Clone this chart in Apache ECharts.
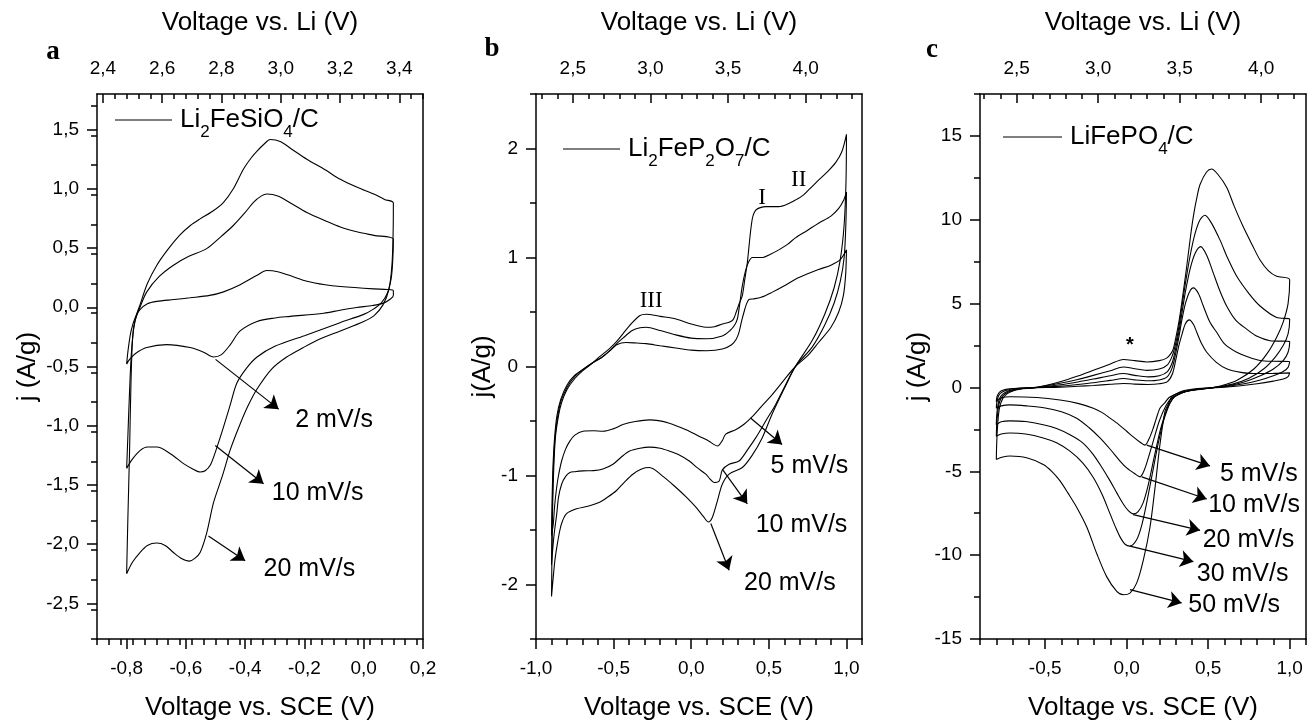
<!DOCTYPE html>
<html><head><meta charset="utf-8">
<script src="https://cdn.jsdelivr.net/npm/echarts@6/dist/echarts.min.js"></script>
<style>html,body{margin:0;padding:0;background:#fff}#c{width:1308px;height:726px}</style>
</head><body><div id="c"></div>
<script>
// ---------------- DATA ----------------
// Panel a : Li2FeSiO4/C  (x = V vs SCE, y = j A/g)
const a_2mVs = [[-0.8,-0.48],[-0.795,-0.36],[-0.785,-0.2],[-0.77,-0.08],[-0.755,-0.02],[-0.73,0.03],[-0.698,0.05],[-0.64,0.065],[-0.586,0.08],[-0.52,0.1],[-0.473,0.13],[-0.417,0.19],[-0.36,0.27],[-0.327,0.31],[-0.29,0.30],[-0.24,0.26],[-0.192,0.22],[-0.13,0.19],[-0.079,0.175],[0.034,0.155],[0.08,0.15],[0.1,0.14],
 [0.1,0.1],[0.09,0.07],[0.067,0.035],[0.03,0.015],[-0.024,-0.002],[-0.08,-0.025],[-0.135,-0.05],[-0.248,-0.077],[-0.3,-0.09],[-0.36,-0.12],[-0.417,-0.2],[-0.45,-0.315],[-0.48,-0.4],[-0.507,-0.42],[-0.54,-0.38],[-0.586,-0.34],[-0.665,-0.315],[-0.732,-0.34],[-0.77,-0.39],[-0.79,-0.44],[-0.8,-0.48]];
const a_10mVs = [[-0.8,-1.36],[-0.796,-1.1],[-0.79,-0.7],[-0.783,-0.35],[-0.772,-0.12],[-0.755,0.0],[-0.732,0.13],[-0.69,0.26],[-0.642,0.355],[-0.59,0.43],[-0.53,0.495],[-0.48,0.6],[-0.44,0.69],[-0.4,0.8],[-0.372,0.886],[-0.345,0.94],[-0.327,0.956],[-0.29,0.94],[-0.24,0.87],[-0.192,0.80],[-0.13,0.73],[-0.079,0.677],[-0.02,0.635],[0.034,0.607],[0.1,0.573],
 [0.098,0.4],[0.093,0.25],[0.08,0.12],[0.06,0.04],[0.03,-0.02],[0.0,-0.06],[-0.08,-0.13],[-0.2,-0.24],[-0.3,-0.33],[-0.36,-0.42],[-0.394,-0.51],[-0.428,-0.64],[-0.45,-0.82],[-0.473,-1.01],[-0.495,-1.18],[-0.517,-1.33],[-0.535,-1.38],[-0.552,-1.39],[-0.58,-1.36],[-0.608,-1.32],[-0.65,-1.24],[-0.698,-1.18],[-0.73,-1.18],[-0.755,-1.21],[-0.78,-1.28],[-0.8,-1.36]];
const a_20mVs = [[-0.8,-2.25],[-0.796,-1.8],[-0.79,-1.2],[-0.785,-0.6],[-0.778,-0.2],[-0.765,-0.05],[-0.755,0.02],[-0.73,0.2],[-0.698,0.355],[-0.66,0.49],[-0.62,0.61],[-0.585,0.69],[-0.552,0.746],[-0.51,0.81],[-0.473,0.886],[-0.44,1.0],[-0.406,1.165],[-0.38,1.26],[-0.36,1.318],[-0.335,1.38],[-0.316,1.416],[-0.282,1.40],[-0.24,1.33],[-0.192,1.25],[-0.13,1.16],[-0.079,1.08],[-0.02,1.01],[0.034,0.956],[0.07,0.91],[0.1,0.88],
 [0.099,0.6],[0.095,0.35],[0.085,0.15],[0.065,0.02],[0.035,-0.07],[0.0,-0.12],[-0.079,-0.2],[-0.15,-0.27],[-0.204,-0.34],[-0.26,-0.42],[-0.31,-0.52],[-0.36,-0.69],[-0.39,-0.83],[-0.417,-0.985],[-0.45,-1.2],[-0.474,-1.4],[-0.49,-1.52],[-0.508,-1.66],[-0.53,-1.906],[-0.552,-2.07],[-0.57,-2.12],[-0.588,-2.143],[-0.615,-2.12],[-0.642,-2.07],[-0.67,-2.01],[-0.698,-1.99],[-0.73,-2.01],[-0.755,-2.07],[-0.78,-2.15],[-0.8,-2.25]];

// Panel b : Li2FeP2O7/C
const b_5mVs = [[-0.9,-1.55],[-0.896,-1.2],[-0.89,-0.9],[-0.88,-0.65],[-0.865,-0.45],[-0.84,-0.3],[-0.8,-0.17],[-0.75,-0.08],[-0.7,-0.03],[-0.64,0.03],[-0.58,0.08],[-0.52,0.15],[-0.48,0.2],[-0.42,0.22],[-0.35,0.215],[-0.29,0.21],[-0.2,0.19],[-0.1,0.17],[0.0,0.15],[0.1,0.145],[0.2,0.16],[0.26,0.2],[0.29,0.25],[0.308,0.315],[0.325,0.42],[0.34,0.5],[0.355,0.57],[0.372,0.615],[0.4,0.62],[0.45,0.635],[0.52,0.68],[0.6,0.74],[0.671,0.80],[0.75,0.85],[0.82,0.89],[0.9,0.93],[0.96,0.98],[1.0,1.07],
 [0.995,0.85],[0.98,0.65],[0.95,0.5],[0.9,0.36],[0.82,0.22],[0.75,0.1],[0.671,0.0],[0.6,-0.12],[0.52,-0.26],[0.45,-0.37],[0.393,-0.46],[0.34,-0.53],[0.286,-0.58],[0.222,-0.62],[0.2,-0.68],[0.169,-0.73],[0.14,-0.71],[0.115,-0.685],[0.05,-0.64],[-0.013,-0.594],[-0.141,-0.52],[-0.27,-0.49],[-0.36,-0.505],[-0.44,-0.533],[-0.5,-0.57],[-0.569,-0.594],[-0.63,-0.59],[-0.697,-0.594],[-0.75,-0.63],[-0.782,-0.685],[-0.81,-0.76],[-0.835,-0.867],[-0.855,-1.0],[-0.867,-1.11],[-0.88,-1.28],[-0.889,-1.45],[-0.9,-1.55]];
const b_10mVs = [[-0.9,-1.82],[-0.896,-1.4],[-0.89,-1.0],[-0.88,-0.7],[-0.865,-0.5],[-0.84,-0.32],[-0.8,-0.19],[-0.75,-0.09],[-0.7,-0.03],[-0.64,0.03],[-0.58,0.08],[-0.52,0.15],[-0.48,0.21],[-0.44,0.26],[-0.38,0.33],[-0.33,0.355],[-0.29,0.36],[-0.2,0.33],[-0.1,0.29],[0.0,0.26],[0.1,0.255],[0.2,0.28],[0.25,0.33],[0.28,0.38],[0.297,0.436],[0.31,0.55],[0.329,0.74],[0.35,0.88],[0.37,0.96],[0.393,1.0],[0.43,1.0],[0.46,1.0],[0.51,1.03],[0.564,1.07],[0.62,1.12],[0.671,1.18],[0.75,1.25],[0.82,1.315],[0.9,1.38],[0.95,1.45],[0.98,1.52],[1.0,1.6],
 [0.996,1.3],[0.985,1.0],[0.96,0.78],[0.92,0.58],[0.86,0.38],[0.78,0.18],[0.671,0.0],[0.6,-0.19],[0.543,-0.35],[0.48,-0.5],[0.415,-0.655],[0.36,-0.77],[0.308,-0.867],[0.244,-0.897],[0.2,-0.95],[0.18,-1.05],[0.147,-1.064],[0.12,-1.03],[0.094,-0.988],[0.04,-0.93],[-0.013,-0.867],[-0.08,-0.81],[-0.141,-0.776],[-0.2,-0.75],[-0.27,-0.74],[-0.33,-0.75],[-0.397,-0.776],[-0.45,-0.83],[-0.504,-0.897],[-0.569,-0.94],[-0.63,-0.955],[-0.697,-0.958],[-0.75,-0.965],[-0.782,-0.973],[-0.81,-1.01],[-0.835,-1.08],[-0.855,-1.2],[-0.867,-1.36],[-0.88,-1.5],[-0.889,-1.62],[-0.9,-1.82]];
const b_20mVs = [[-0.9,-2.11],[-0.897,-1.7],[-0.893,-1.3],[-0.886,-0.95],[-0.875,-0.65],[-0.855,-0.45],[-0.835,-0.33],[-0.8,-0.21],[-0.75,-0.11],[-0.7,-0.04],[-0.654,0.01],[-0.59,0.09],[-0.53,0.16],[-0.483,0.225],[-0.44,0.3],[-0.397,0.375],[-0.333,0.466],[-0.29,0.48],[-0.2,0.46],[-0.098,0.436],[0.0,0.39],[0.094,0.36],[0.15,0.365],[0.2,0.39],[0.244,0.406],[0.27,0.43],[0.29,0.5],[0.31,0.58],[0.329,0.65],[0.345,0.8],[0.361,0.95],[0.372,1.1],[0.383,1.25],[0.394,1.36],[0.404,1.406],[0.42,1.44],[0.45,1.46],[0.479,1.467],[0.564,1.467],[0.62,1.49],[0.671,1.527],[0.72,1.57],[0.756,1.62],[0.82,1.71],[0.88,1.79],[0.93,1.87],[0.97,1.97],[1.0,2.13],
 [0.997,1.7],[0.985,1.3],[0.96,0.98],[0.92,0.72],[0.86,0.48],[0.78,0.24],[0.671,0.0],[0.6,-0.2],[0.52,-0.44],[0.457,-0.655],[0.39,-0.82],[0.329,-0.927],[0.244,-0.988],[0.2,-1.08],[0.169,-1.23],[0.137,-1.38],[0.111,-1.427],[0.08,-1.38],[0.03,-1.29],[-0.03,-1.2],[-0.098,-1.11],[-0.18,-1.01],[-0.27,-0.927],[-0.32,-0.94],[-0.376,-0.988],[-0.43,-1.06],[-0.483,-1.14],[-0.54,-1.2],[-0.59,-1.245],[-0.66,-1.28],[-0.739,-1.306],[-0.803,-1.35],[-0.83,-1.42],[-0.846,-1.5],[-0.865,-1.65],[-0.878,-1.775],[-0.89,-1.95],[-0.9,-2.11]];

// Panel c : LiFePO4/C
const c_5mVs = [[-0.8,-0.85],[-0.797,-0.6],[-0.79,-0.42],[-0.78,-0.28],[-0.76,-0.17],[-0.73,-0.1],[-0.69,-0.06],[-0.655,-0.04],[-0.55,-0.01],[-0.409,0.02],[-0.3,0.07],[-0.205,0.12],[-0.1,0.19],[-0.02,0.24],[0.05,0.2],[0.13,0.18],[0.2,0.22],[0.25,0.35],[0.28,0.8],[0.3,1.6],[0.32,2.5],[0.34,3.2],[0.36,3.8],[0.384,4.03],[0.41,3.75],[0.43,3.29],[0.46,2.6],[0.491,2.1],[0.55,1.5],[0.613,1.12],[0.7,0.9],[0.777,0.83],[0.9,0.84],[1.0,0.87],
 [0.99,0.65],[0.96,0.5],[0.9,0.38],[0.8,0.22],[0.7,0.1],[0.6,0.02],[0.5,-0.03],[0.42,-0.08],[0.36,-0.17],[0.32,-0.3],[0.29,-0.45],[0.26,-0.6],[0.235,-0.9],[0.204,-1.24],[0.18,-1.9],[0.163,-2.42],[0.14,-3.0],[0.112,-3.44],[0.08,-3.25],[0.04,-2.95],[0.0,-2.61],[-0.05,-2.2],[-0.102,-1.83],[-0.15,-1.5],[-0.205,-1.24],[-0.3,-0.95],[-0.409,-0.75],[-0.55,-0.6],[-0.716,-0.55],[-0.77,-0.62],[-0.8,-0.85]];
const c_10mVs = [[-0.8,-1.24],[-0.797,-0.9],[-0.79,-0.6],[-0.78,-0.4],[-0.76,-0.25],[-0.73,-0.15],[-0.69,-0.08],[-0.655,-0.05],[-0.55,0.0],[-0.409,0.08],[-0.3,0.18],[-0.205,0.28],[-0.1,0.42],[-0.02,0.53],[0.05,0.45],[0.13,0.4],[0.2,0.45],[0.25,0.65],[0.28,1.2],[0.3,2.0],[0.32,3.0],[0.34,4.1],[0.36,5.0],[0.385,5.7],[0.409,5.94],[0.44,5.6],[0.47,4.86],[0.51,3.9],[0.552,3.29],[0.6,2.6],[0.675,2.1],[0.75,1.8],[0.818,1.61],[0.9,1.56],[1.0,1.55],
 [0.99,1.2],[0.96,0.95],[0.9,0.7],[0.82,0.45],[0.72,0.22],[0.62,0.07],[0.52,-0.02],[0.44,-0.1],[0.37,-0.22],[0.32,-0.4],[0.28,-0.6],[0.24,-1.1],[0.2,-2.0],[0.16,-3.3],[0.12,-4.6],[0.1,-5.1],[0.082,-5.33],[0.05,-5.15],[0.0,-4.8],[-0.041,-4.39],[-0.1,-3.7],[-0.164,-3.01],[-0.23,-2.4],[-0.307,-1.83],[-0.4,-1.45],[-0.5,-1.22],[-0.614,-1.1],[-0.716,-1.04],[-0.77,-1.1],[-0.8,-1.24]];
const c_20mVs = [[-0.8,-2.22],[-0.797,-1.6],[-0.79,-1.05],[-0.78,-0.65],[-0.76,-0.4],[-0.73,-0.22],[-0.69,-0.12],[-0.655,-0.07],[-0.55,0.0],[-0.409,0.16],[-0.3,0.33],[-0.205,0.5],[-0.1,0.7],[-0.02,0.83],[0.05,0.72],[0.13,0.63],[0.2,0.7],[0.25,0.95],[0.28,1.5],[0.3,2.3],[0.32,3.3],[0.34,4.5],[0.36,5.7],[0.39,7.1],[0.42,8.0],[0.454,8.4],[0.49,7.9],[0.531,6.83],[0.57,5.8],[0.613,4.86],[0.67,4.0],[0.736,3.48],[0.8,3.05],[0.879,2.79],[1.0,2.73],
 [0.99,2.1],[0.96,1.6],[0.9,1.1],[0.82,0.7],[0.72,0.33],[0.62,0.1],[0.52,-0.03],[0.43,-0.12],[0.36,-0.25],[0.31,-0.45],[0.28,-0.7],[0.25,-1.2],[0.21,-2.4],[0.17,-4.1],[0.13,-5.9],[0.1,-6.9],[0.07,-7.4],[0.04,-7.54],[0.01,-7.35],[-0.021,-6.95],[-0.06,-6.3],[-0.102,-5.57],[-0.15,-4.8],[-0.205,-4.0],[-0.27,-3.3],[-0.348,-2.82],[-0.43,-2.45],[-0.512,-2.22],[-0.62,-2.03],[-0.716,-1.99],[-0.77,-2.05],[-0.8,-2.22]];
const c_30mVs = [[-0.8,-2.91],[-0.797,-2.1],[-0.79,-1.4],[-0.78,-0.85],[-0.76,-0.5],[-0.73,-0.28],[-0.69,-0.15],[-0.655,-0.08],[-0.55,0.02],[-0.409,0.25],[-0.3,0.48],[-0.205,0.72],[-0.1,1.0],[-0.02,1.22],[0.05,1.12],[0.123,1.02],[0.2,1.1],[0.25,1.35],[0.28,1.9],[0.3,2.6],[0.32,3.6],[0.34,4.9],[0.36,6.2],[0.39,7.9],[0.42,9.2],[0.45,10.0],[0.48,10.27],[0.52,9.8],[0.572,8.8],[0.62,7.7],[0.675,6.63],[0.75,5.6],[0.818,4.86],[0.92,4.17],[1.0,4.07],
 [0.99,3.2],[0.96,2.5],[0.91,1.8],[0.84,1.1],[0.75,0.55],[0.65,0.2],[0.55,0.02],[0.45,-0.1],[0.37,-0.22],[0.31,-0.45],[0.28,-0.7],[0.25,-1.3],[0.22,-2.2],[0.19,-3.5],[0.16,-5.0],[0.12,-7.0],[0.09,-8.3],[0.06,-9.1],[0.02,-9.46],[-0.01,-9.35],[-0.041,-8.91],[-0.07,-8.3],[-0.102,-7.54],[-0.15,-6.4],[-0.205,-5.37],[-0.27,-4.5],[-0.348,-3.8],[-0.43,-3.3],[-0.512,-3.01],[-0.62,-2.78],[-0.716,-2.72],[-0.77,-2.78],[-0.8,-2.91]];
const c_50mVs = [[-0.8,-4.29],[-0.797,-3.2],[-0.79,-2.0],[-0.78,-1.2],[-0.76,-0.65],[-0.73,-0.35],[-0.69,-0.18],[-0.655,-0.1],[-0.55,0.0],[-0.409,0.34],[-0.3,0.68],[-0.205,1.02],[-0.1,1.4],[-0.02,1.67],[0.05,1.6],[0.123,1.52],[0.2,1.6],[0.245,1.75],[0.27,2.0],[0.286,2.3],[0.3,2.9],[0.32,3.9],[0.34,5.2],[0.368,7.2],[0.39,8.9],[0.409,10.2],[0.43,11.3],[0.45,12.1],[0.49,12.85],[0.521,13.03],[0.56,12.7],[0.613,11.94],[0.66,10.8],[0.715,9.58],[0.77,8.5],[0.818,7.6],[0.87,6.95],[0.92,6.63],[1.0,6.43],
 [0.99,5.0],[0.96,3.9],[0.92,3.0],[0.86,2.0],[0.78,1.1],[0.68,0.45],[0.58,0.1],[0.5,-0.05],[0.42,-0.15],[0.347,-0.25],[0.3,-0.4],[0.276,-0.55],[0.255,-1.0],[0.235,-1.43],[0.204,-3.4],[0.174,-5.96],[0.143,-8.32],[0.102,-10.29],[0.061,-11.67],[0.02,-12.26],[-0.02,-12.36],[-0.061,-12.16],[-0.123,-11.28],[-0.184,-9.9],[-0.245,-8.32],[-0.307,-7.14],[-0.36,-6.3],[-0.409,-5.57],[-0.46,-5.0],[-0.512,-4.59],[-0.614,-4.19],[-0.716,-4.09],[-0.76,-4.15],[-0.8,-4.29]];

// Tick labels
const a_xTicks = [-0.8,-0.6,-0.4,-0.2,0.0,0.2];
const a_topTicks = [2.4,2.6,2.8,3.0,3.2,3.4];
const a_yTicks = [-2.5,-2.0,-1.5,-1.0,-0.5,0.0,0.5,1.0,1.5];
const b_xTicks = [-1.0,-0.5,0.0,0.5,1.0];
const b_topTicks = [2.5,3.0,3.5,4.0];
const b_yTicks = [-2,-1,0,1,2];
const c_xTicks = [-0.5,0.0,0.5,1.0];
const c_topTicks = [2.5,3.0,3.5,4.0];
const c_yTicks = [-15,-10,-5,0,5,10,15];

// Annotations (data coords)
const a_rates = ['2 mV/s','10 mV/s','20 mV/s'];
const a_arrows = [[[-0.500,-0.44],[-0.287,-0.86]],[[-0.501,-1.166],[-0.338,-1.49]],[[-0.524,-1.93],[-0.40,-2.14]]];
const a_ratePos = [[-0.231,-0.955],[-0.31,-1.57],[-0.338,-2.21]];
const b_rates = ['5 mV/s','10 mV/s','20 mV/s'];
const b_arrows = [[[0.382,-0.473],[0.585,-0.715]],[[0.201,-0.943],[0.361,-1.26]],[[0.126,-1.44],[0.244,-1.87]]];
const b_ratePos = [[0.511,-0.912],[0.415,-1.457],[0.34,-1.99]];
const b_peaks = ['I','II','III'];
const b_peakPos = [[0.457,1.55],[0.692,1.71],[-0.258,0.60]];
const c_rates = ['5 mV/s','10 mV/s','20 mV/s','30 mV/s','50 mV/s'];
const c_arrows = [[[0.123,-3.44],[0.511,-4.68]],[[0.092,-5.33],[0.491,-6.65]],[[0.04,-7.58],[0.45,-8.52]],[[0.02,-9.46],[0.409,-10.39]],[[0.02,-12.06],[0.337,-12.85]]];
const c_ratePos = [[0.572,-5.18],[0.50,-7.04],[0.466,-9.11],[0.43,-11.12],[0.378,-13.0]];
const c_starPos = [0.02,2.5];

// ---------------- CHART ----------------
const FONT = "'Liberation Sans', Arial, Helvetica, sans-serif";
const SERIF = "'Liberation Serif', 'Times New Roman', serif";
const INK = '#000';
function steps(a,b,s){const o=[];for(let i=0;;i++){const v=+(a+i*s).toFixed(5);if(v>b+1e-9)break;o.push(v);}return o;}
function minorOf(a,b,s,major){return steps(a,b,s).filter(v=>!major.some(m=>Math.abs(m-v)<1e-6));}
function fmt(v,d){return v.toFixed(d).replace('.',',');}

const panels = [
 {left:97, xMin:-0.9,xMax:0.2,xMajor:a_xTicks,xStep:0.04,xDec:1, off:3.28, tMajor:a_topTicks,tStep:0.04,tDec:1,
  yMin:-2.8,yMax:1.8,yMajor:a_yTicks,yStep:0.25,yDec:1, yName:'j (A/g)', yGap:56},
 {left:536, xMin:-1.0,xMax:1.1,xMajor:b_xTicks,xStep:0.1,xDec:1, off:3.263, tMajor:b_topTicks,tStep:0.1,tDec:1,
  yMin:-2.5,yMax:2.5,yMajor:b_yTicks,yStep:0.5,yDec:0, yName:'j(A/g)', yGap:40},
 {left:980, xMin:-0.9,xMax:1.1,xMajor:c_xTicks,xStep:0.1,xDec:1, off:3.175, tMajor:c_topTicks,tStep:0.1,tDec:1,
  yMin:-15,yMax:17.5,yMajor:c_yTicks,yStep:2.5,yDec:0, yName:'j (A/g)', yGap:42}
];

const grids=[],xAxes=[],yAxes=[];
const tickStyle={color:INK,width:1.5};
const nameStyle={color:INK,fontSize:26,fontFamily:FONT};
const labStyle={color:INK,fontSize:19,fontFamily:FONT};
panels.forEach((p,g)=>{
  grids.push({left:p.left,top:94,width:326,height:549,containLabel:false});
  const xMinor=minorOf(p.xMin,p.xMax,p.xStep,p.xMajor);
  const tMin=p.xMin+p.off,tMax=p.xMax+p.off;
  const tStart=Math.ceil((tMin-1e-9)/p.tStep)*p.tStep;
  const tMinor=minorOf(tStart,tMax,p.tStep,p.tMajor);
  const yMinor=minorOf(p.yMin,p.yMax,p.yStep,p.yMajor);
  xAxes.push({type:'value',gridIndex:g,position:'bottom',min:p.xMin,max:p.xMax,
    axisLine:{show:true,onZero:false,lineStyle:{color:INK,width:1.5}},
    axisTick:{show:true,inside:false,length:10,customValues:p.xMajor,lineStyle:tickStyle},
    axisLabel:{show:true,customValues:p.xMajor,formatter:v=>fmt(v,p.xDec),margin:20,...labStyle},
    splitLine:{show:false},name:'Voltage vs. SCE (V)',nameLocation:'middle',nameGap:56,nameTextStyle:nameStyle});
  xAxes.push({type:'value',gridIndex:g,position:'bottom',min:p.xMin,max:p.xMax,
    axisLine:{show:false,onZero:false},axisTick:{show:true,inside:false,length:6,customValues:xMinor,lineStyle:tickStyle},
    axisLabel:{show:false},splitLine:{show:false}});
  xAxes.push({type:'value',gridIndex:g,position:'top',min:tMin,max:tMax,
    axisLine:{show:true,onZero:false,lineStyle:{color:INK,width:1.5}},
    axisTick:{show:true,inside:true,length:9,customValues:p.tMajor,lineStyle:tickStyle},
    axisLabel:{show:true,customValues:p.tMajor,formatter:v=>fmt(v,p.tDec),margin:16,...labStyle},
    splitLine:{show:false},name:'Voltage vs. Li (V)',nameLocation:'middle',nameGap:58,nameTextStyle:nameStyle});
  xAxes.push({type:'value',gridIndex:g,position:'top',min:tMin,max:tMax,
    axisLine:{show:false,onZero:false},axisTick:{show:true,inside:true,length:5,customValues:tMinor,lineStyle:tickStyle},
    axisLabel:{show:false},splitLine:{show:false}});
  yAxes.push({type:'value',gridIndex:g,position:'left',min:p.yMin,max:p.yMax,
    axisLine:{show:true,onZero:false,lineStyle:{color:INK,width:1.5}},
    axisTick:{show:true,inside:false,length:10,customValues:p.yMajor,lineStyle:tickStyle},
    axisLabel:{show:true,customValues:p.yMajor,formatter:v=>fmt(v,p.yDec),margin:18,...labStyle},
    splitLine:{show:false},name:p.yName,nameLocation:'middle',nameGap:p.yGap,nameRotate:90,nameTextStyle:nameStyle});
  yAxes.push({type:'value',gridIndex:g,position:'left',min:p.yMin,max:p.yMax,
    axisLine:{show:false,onZero:false},axisTick:{show:true,inside:false,length:6,customValues:yMinor,lineStyle:tickStyle},
    axisLabel:{show:false},splitLine:{show:false}});
  yAxes.push({type:'value',gridIndex:g,position:'right',min:p.yMin,max:p.yMax,
    axisLine:{show:true,onZero:false,lineStyle:{color:INK,width:1.5}},axisTick:{show:false},axisLabel:{show:false},splitLine:{show:false}});
});

const curves=[[a_2mVs,a_10mVs,a_20mVs],[b_5mVs,b_10mVs,b_20mVs],[c_5mVs,c_10mVs,c_20mVs,c_30mVs,c_50mVs]];
const notes=[
  {arrows:a_arrows,labels:a_rates,pos:a_ratePos,extra:[]},
  {arrows:b_arrows,labels:b_rates,pos:b_ratePos,extra:b_peaks.map((t,i)=>({name:t,coord:b_peakPos[i],label:{show:true,position:'inside',fontFamily:SERIF,fontSize:23,color:INK,formatter:t}}))},
  {arrows:c_arrows,labels:c_rates,pos:c_ratePos,extra:[{name:'*',coord:c_starPos,label:{show:true,position:'inside',fontFamily:FONT,fontSize:20,fontWeight:'bold',color:INK,formatter:'*'}}]}
];
const series=[];
curves.forEach((set,g)=>{
  set.forEach((d,k)=>{
    const s={type:'line',xAxisIndex:4*g,yAxisIndex:3*g,data:d,showSymbol:false,symbol:'none',smooth:0.3,
      lineStyle:{color:INK,width:1.1},silent:true,animation:false,z:3};
    if(k===0){
      const n=notes[g];
      s.markLine={silent:true,animation:false,symbol:['none','arrow'],symbolSize:13,
        lineStyle:{color:INK,width:1.2,type:'solid'},label:{show:false},emphasis:{disabled:true},
        data:n.arrows.map(a=>[{coord:a[0]},{coord:a[1]}])};
      s.markPoint={silent:true,animation:false,symbol:'circle',symbolSize:0,itemStyle:{color:'rgba(0,0,0,0)'},
        data:n.labels.map((t,i)=>({name:t,coord:n.pos[i],label:{show:true,position:'right',distance:0,color:INK,fontSize:25,fontFamily:FONT,formatter:t}})).concat(n.extra)};
    }
    series.push(s);
  });
});

const rich={n:{fontSize:26,fontFamily:FONT,color:INK},s:{fontSize:17,fontFamily:FONT,color:INK,padding:[24,0,0,0]}};
function legend(x1,x2,y,text){
  return [{type:'line',shape:{x1:x1,y1:y,x2:x2,y2:y},style:{stroke:INK,lineWidth:1.2},silent:true},
          {type:'text',x:x2+8,y:y,style:{text:text,rich:rich,verticalAlign:'middle',align:'left'},silent:true}];
}
const letter=(t,x,y)=>({type:'text',x:x,y:y,style:{text:t,fontFamily:SERIF,fontWeight:'bold',fontSize:27,fill:INK,align:'center',verticalAlign:'middle'},silent:true});

const chart=echarts.init(document.getElementById('c'),null,{renderer:'canvas'});
chart.setOption({
  animation:false,backgroundColor:'#fff',
  grid:grids,xAxis:xAxes,yAxis:yAxes,series:series,
  graphic:[
    letter('a',53,52),letter('b',492,49),letter('c',932,50),
    ...legend(115,172,120,'{n|Li}{s|2}{n|FeSiO}{s|4}{n|/C}'),
    ...legend(563,620,149,'{n|Li}{s|2}{n|FeP}{s|2}{n|O}{s|7}{n|/C}'),
    ...legend(1003,1062,137,'{n|LiFePO}{s|4}{n|/C}')
  ]
});
</script></body></html>
